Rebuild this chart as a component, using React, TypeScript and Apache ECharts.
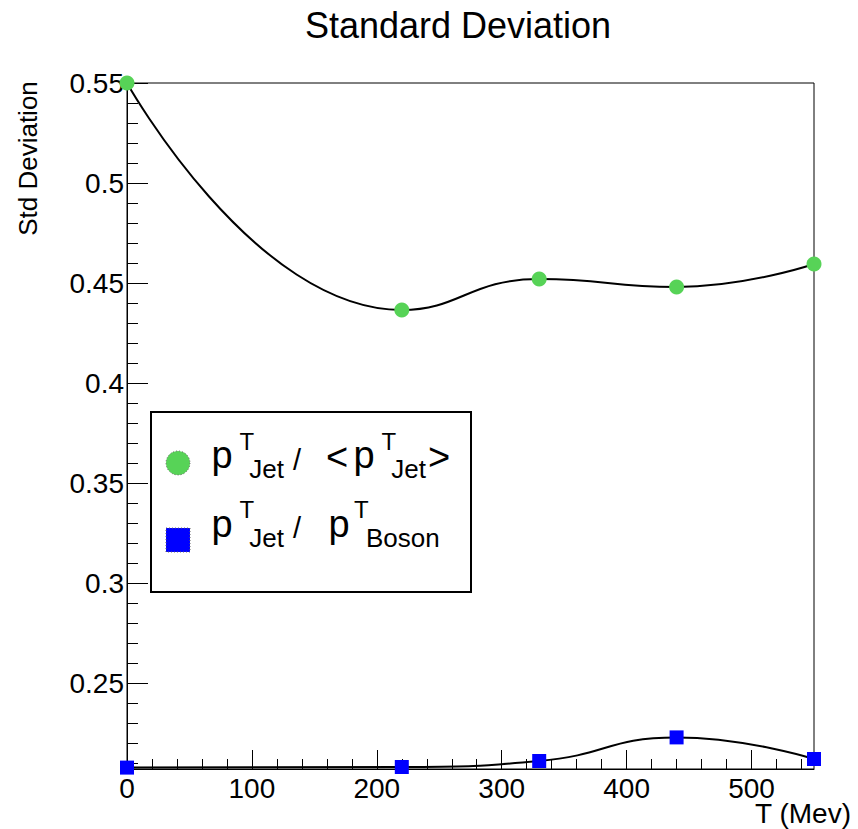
import React, { useEffect, useRef } from "react";
import * as echarts from "echarts";

const xValues = [0, 220, 330, 440, 550];
const jetOverMeanJet = [0.55, 0.4365, 0.452, 0.448, 0.4595];
const jetOverBoson = [0.2077, 0.208, 0.211, 0.2228, 0.212];

const xMajorTicks = [0, 100, 200, 300, 400, 500];
const xMinorTicks = [20, 40, 60, 80, 120, 140, 160, 180, 220, 240, 260, 280, 320, 340, 360, 380, 420, 440, 460, 480, 520, 540];
const yMajorTicks = [0.25, 0.3, 0.35, 0.4, 0.45, 0.5, 0.55];
const yMinorTicks = [0.21, 0.22, 0.23, 0.24, 0.26, 0.27, 0.28, 0.29, 0.31, 0.32, 0.33, 0.34, 0.36, 0.37, 0.38, 0.39, 0.41, 0.42, 0.43, 0.44, 0.46, 0.47, 0.48, 0.49, 0.51, 0.52, 0.53, 0.54];

const X_MIN = 0;
const X_MAX = 550;
const Y_MIN = 0.207;
const Y_MAX = 0.55;

const GREEN = "#57d357";
const BLUE = "#0000ff";
const FONT = "'Liberation Sans', Arial, Helvetica, sans-serif";

function txt(text: string, x: number, y: number, size: number, align = "left", rotation = 0) {
  return {
    type: "text",
    x,
    y,
    rotation,
    z: 20,
    style: {
      text,
      x: 0,
      y: 0,
      fill: "#000",
      fontSize: size,
      fontFamily: FONT,
      align,
      verticalAlign: "middle",
      textAlign: align,
      textVerticalAlign: "middle",
    },
  };
}

export default function App() {
  const ref = useRef<HTMLDivElement>(null);

  useEffect(() => {
    if (!ref.current) return;
    const chart = echarts.init(ref.current, undefined, { renderer: "svg" });

    const baseX = {
      type: "value",
      min: X_MIN,
      max: X_MAX,
      position: "bottom",
      splitLine: { show: false },
    };
    const baseY = {
      type: "value",
      min: Y_MIN,
      max: Y_MAX,
      position: "left",
      splitLine: { show: false },
    };

    const option: any = {
      animation: false,
      backgroundColor: "#fff",
      grid: {
        left: 127,
        top: 83,
        right: 44,
        bottom: 60,
        show: true,
        borderColor: "#000",
        borderWidth: 1,
        backgroundColor: "transparent",
      },
      xAxis: [
        {
          ...baseX,
          axisLine: { show: true, onZero: false, lineStyle: { color: "#000", width: 1 } },
          axisTick: { show: true, inside: true, length: 19, customValues: xMajorTicks, lineStyle: { color: "#000", width: 1 } },
          axisLabel: {
            show: true,
            customValues: xMajorTicks,
            margin: 5,
            color: "#000",
            fontSize: 28,
            fontFamily: FONT,
          },
        },
        {
          ...baseX,
          axisLine: { show: false, onZero: false },
          axisTick: { show: true, inside: true, length: 10, customValues: xMinorTicks, lineStyle: { color: "#000", width: 1 } },
          axisLabel: { show: false },
        },
      ],
      yAxis: [
        {
          ...baseY,
          axisLine: { show: true, onZero: false, lineStyle: { color: "#000", width: 1 } },
          axisTick: { show: true, inside: true, length: 21, customValues: yMajorTicks, lineStyle: { color: "#000", width: 1 } },
          axisLabel: {
            show: true,
            customValues: yMajorTicks,
            margin: 3,
            color: "#000",
            fontSize: 28,
            fontFamily: FONT,
            formatter: (v: number) => String(Math.round(v * 100) / 100),
          },
        },
        {
          ...baseY,
          axisLine: { show: false, onZero: false },
          axisTick: { show: true, inside: true, length: 11, customValues: yMinorTicks, lineStyle: { color: "#000", width: 1 } },
          axisLabel: { show: false },
        },
      ],
      series: [
        {
          name: "jetMean",
          type: "line",
          xAxisIndex: 0,
          yAxisIndex: 0,
          data: xValues.map((x, i) => [x, jetOverMeanJet[i]]),
          smooth: true,
          clip: false,
          symbol: "circle",
          symbolSize: 15,
          itemStyle: { color: GREEN },
          lineStyle: { color: "#000", width: 2 },
          z: 5,
        },
        {
          name: "jetBoson",
          type: "line",
          xAxisIndex: 0,
          yAxisIndex: 0,
          data: xValues.map((x, i) => [x, jetOverBoson[i]]),
          smooth: true,
          clip: false,
          symbol: "rect",
          symbolSize: 14,
          itemStyle: { color: BLUE },
          lineStyle: { color: "#000", width: 2 },
          z: 5,
        },
      ],
      graphic: [
        txt("Standard Deviation", 458, 25.5, 36, "center"),
        txt("Std Deviation", 28, 158.5, 26, "center", Math.PI / 2),
        txt("T (Mev)", 851, 813.5, 28, "right"),
        {
          type: "rect",
          z: 15,
          shape: { x: 151, y: 412, width: 320, height: 180 },
          style: { fill: "#fff", stroke: "#000", lineWidth: 2 },
        },
        {
          type: "circle",
          z: 16,
          shape: { cx: 178, cy: 463, r: 12 },
          style: { fill: GREEN, stroke: "#666", lineWidth: 1, lineDash: [1, 2] },
        },
        {
          type: "rect",
          z: 16,
          shape: { x: 166, y: 528, width: 24, height: 24 },
          style: { fill: BLUE, stroke: "#666", lineWidth: 1, lineDash: [1, 2] },
        },
        // row 1: p^T_Jet /  <p^T_Jet>
        txt("p", 211.5, 454.8, 38),
        txt("T", 239.5, 441.7, 24),
        txt("Jet", 249.3, 469.3, 26),
        txt("/", 293, 460.3, 29),
        txt("<", 326, 456.8, 38),
        txt("p", 353.5, 454.8, 38),
        txt("T", 381.5, 441.7, 24),
        txt("Jet", 391.3, 469.3, 26),
        txt(">", 428, 456.8, 38),
        // row 2: p^T_Jet /  p^T_Boson
        txt("p", 211.5, 523.8, 38),
        txt("T", 239.5, 509.7, 24),
        txt("Jet", 249.3, 538.3, 26),
        txt("/", 293, 528.3, 29),
        txt("p", 328.5, 523.8, 38),
        txt("T", 354, 509.7, 24),
        txt("Boson", 366, 538.3, 26),
      ],
    };

    chart.setOption(option);
    return () => chart.dispose();
  }, []);

  return (
    <div
      ref={ref}
      style={{ position: "absolute", left: 0, top: 0, width: 858, height: 829 }}
    />
  );
}
